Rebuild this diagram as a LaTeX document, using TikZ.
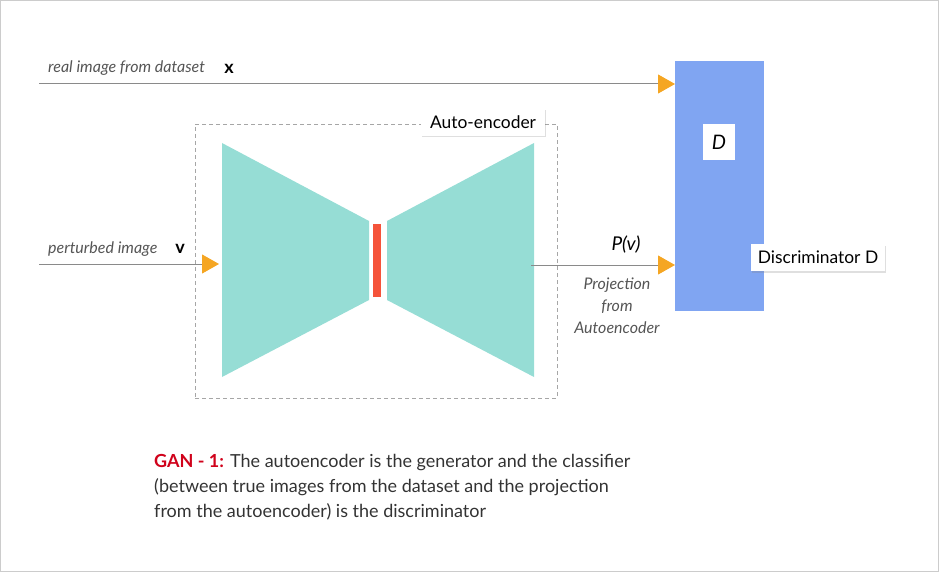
\documentclass[tikz,border=0pt]{standalone}
\usepackage{fontspec}
\setmainfont{Lato}
\usetikzlibrary{arrows.meta,shadows}
\definecolor{teal}{HTML}{96DDD5}
\definecolor{redbar}{HTML}{F5533A}
\definecolor{orangetip}{HTML}{F5A623}
\definecolor{dblue}{HTML}{80A5F2}
\definecolor{lgray}{HTML}{8A8A8A}
\definecolor{tgray}{HTML}{555555}
\definecolor{ganred}{HTML}{D0021B}
\definecolor{frame}{HTML}{CCCCCC}
\tikzset{
  conn/.style={draw=lgray, line width=1pt, -{Triangle[length=17pt,width=19pt,color=orangetip,fill=orangetip]}},
  lbl/.style={font=\fontsize{16}{18}\selectfont\itshape, text=tgray, inner sep=0pt},
  var/.style={font=\fontsize{18}{20}\selectfont\bfseries, text=black, inner sep=0pt},
  tagbox/.style={fill=white, inner sep=0pt, font=\fontsize{17.4}{19}\selectfont,
     drop shadow={shadow xshift=1pt, shadow yshift=-1.5pt, opacity=0.25}},
  body/.style={font=\fontsize{18}{25}\selectfont, text=black!80, inner sep=0pt, anchor=base west},
}
\begin{document}
\begin{tikzpicture}[x=1pt,y=-1pt]
\useasboundingbox (0,0) rectangle (939,572);
\draw[frame, line width=1pt] (0.5,0.5) rectangle (938.5,571.5);

% Discriminator
\node[fill=dblue, minimum width=89pt, minimum height=250pt, inner sep=0pt, anchor=north west] (D) at (675,61) {};
\node[fill=white, minimum width=32pt, minimum height=36pt, inner sep=0pt, font=\fontsize{20}{22}\selectfont\itshape] (Dl) at (719,142) {D};
\node[tagbox, minimum width=134pt, minimum height=27pt] (disc) at (818,257.5) {Discriminator D};

% Auto-encoder box
\node[draw=black!35, dashed, dash pattern=on 4pt off 3pt, line width=0.8pt, minimum width=362pt, minimum height=274pt, inner sep=0pt] (ae) at (376,261) {};
\node[tagbox, minimum width=124pt, minimum height=27pt] (aelbl) at (483,122.5) {Auto-encoder};

% encoder / decoder
\fill[teal] (222,143) -- (369,221) -- (369,300) -- (222,377) -- cycle;
\fill[teal] (534,143) -- (387,221) -- (387,300) -- (534,377) -- cycle;
\node[fill=redbar, minimum width=8pt, minimum height=73pt, inner sep=0pt] (z) at (377,260.5) {};

\coordinate (xin) at (39,84);
\coordinate (vin) at (39,264);
\coordinate (encin) at (219,264);
\coordinate (decout) at (531,265);

\draw[conn] (xin) -- (D.west |- xin);
\draw[conn] (vin) -- (encin);
\draw[conn] (decout) -- (D.west |- decout);

% labels
\node[lbl, anchor=base west] (l1) at (48,73) {real image from dataset};
\node[var] (xv) at (229,69) {x};
\node[lbl, anchor=base west] (l2) at (48,253) {perturbed image};
\node[var] (vv) at (180,249) {v};
\node[font=\fontsize{19}{21}\selectfont\itshape, inner sep=0pt] (pv) at (626,245) {P(v)};
\node[lbl, align=center, font=\fontsize{16}{22}\selectfont\itshape, anchor=north] (proj) at (617,278) {Projection\\from\\Autoencoder};

% caption
\node[body] (c1) at (154,467) {{\color{ganred}\bfseries GAN - 1:} The autoencoder is the generator and the classifier};
\node[body] (c2) at (154,492) {(between true images from the dataset and the projection};
\node[body] (c3) at (154,517) {from the autoencoder) is the discriminator};
\end{tikzpicture}
\end{document}
